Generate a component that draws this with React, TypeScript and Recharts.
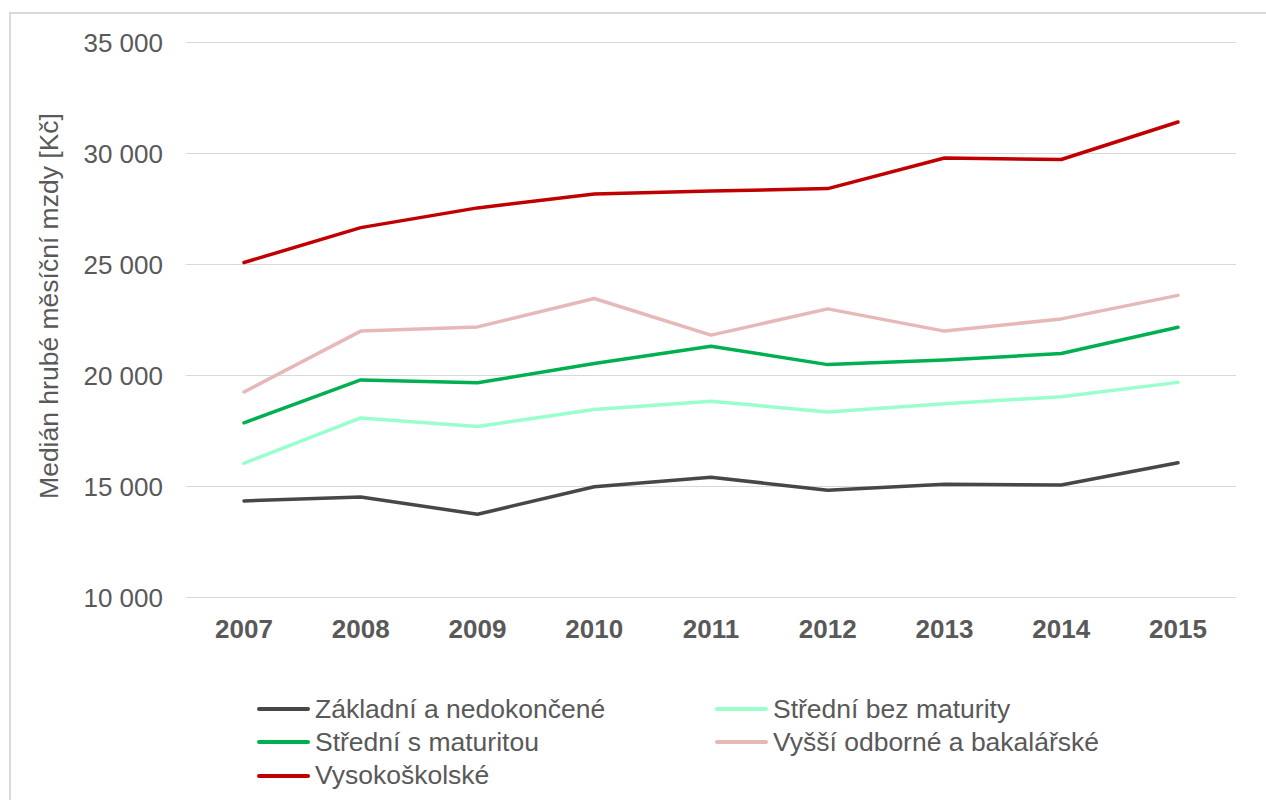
import { CartesianGrid, Legend, Line, LineChart, XAxis, YAxis } from 'recharts'

const years = ['2007', '2008', '2009', '2010', '2011', '2012', '2013', '2014', '2015']

const zakladni = [14350, 14530, 13750, 14990, 15420, 14830, 15100, 15070, 16070]
const stredniBez = [16050, 18090, 17700, 18470, 18840, 18360, 18730, 19040, 19690]
const stredniS = [17870, 19800, 19670, 20540, 21320, 20490, 20700, 20990, 22170]
const vyssi = [19260, 22000, 22190, 23470, 21820, 23000, 22000, 22550, 23610]
const vysoko = [25090, 26660, 27550, 28180, 28310, 28420, 29800, 29730, 31420]

const yTicks = [10000, 15000, 20000, 25000, 30000, 35000]

const series = [
  { key: 'zakladni', name: 'Základní a nedokončené', color: '#474747', values: zakladni },
  { key: 'stredniBez', name: 'Střední bez maturity', color: '#99ffcc', values: stredniBez },
  { key: 'stredniS', name: 'Střední s maturitou', color: '#00b050', values: stredniS },
  { key: 'vyssi', name: 'Vyšší odborné a bakalářské', color: '#e6b9b8', values: vyssi },
  { key: 'vysoko', name: 'Vysokoškolské', color: '#c00000', values: vysoko },
]

const data = years.map((year, i) => {
  const row: Record<string, string | number> = { year }
  series.forEach((s) => {
    row[s.key] = s.values[i]
  })
  return row
})

const FONT = '"Liberation Sans", Arial, sans-serif'
const TEXT = '#595959'

const formatThousands = (v: number) => `${Math.floor(v / 1000)} ${String(v % 1000).padStart(3, '0')}`

function AxisTitle() {
  return (
    <text
      x={57.5}
      y={306}
      transform="rotate(-90, 57.5, 306)"
      textAnchor="middle"
      fill={TEXT}
      fontSize={26.5}
      fontFamily={FONT}
    >
      Medián hrubé měsíční mzdy [Kč]
    </text>
  )
}

// legend keeps the series order (Recharts would sort it by name)
function LegendBox() {
  return (
    <div
      style={{
        position: 'absolute',
        left: 257,
        top: 35,
        display: 'grid',
        gridTemplateColumns: '458px auto',
        fontFamily: FONT,
        fontSize: 26.5,
        color: TEXT,
      }}
    >
      {series.map((s) => (
        <div key={s.key} style={{ display: 'flex', alignItems: 'center', height: 33.3, whiteSpace: 'nowrap' }}>
          <span style={{ width: 53, height: 4, background: s.color, borderRadius: 2, marginRight: 5 }} />
          <span>{s.name}</span>
        </div>
      ))}
    </div>
  )
}

export default function App() {
  return (
    <div style={{ position: 'relative', width: 1266, height: 800, overflow: 'hidden', background: '#fff' }}>
      <style>{'body{margin:0;overflow:hidden}'}</style>
      <div
        style={{
          position: 'absolute',
          left: 9,
          top: 12,
          width: 1300,
          height: 900,
          border: '2px solid #d9d9d9',
        }}
      />
      <div style={{ position: 'absolute', left: 0, top: 0 }}>
        <LineChart width={1266} height={800} data={data} margin={{ top: 42.5, right: 30, left: 0, bottom: 0 }}>
          <CartesianGrid vertical={false} stroke="#d9d9d9" strokeWidth={1} />
          <XAxis
            dataKey="year"
            axisLine={false}
            tickLine={false}
            tickSize={0}
            tickMargin={22}
            height={60}
            padding={{ left: 58, right: 58 }}
            tick={{ fill: TEXT, fontSize: 26, fontWeight: 700, fontFamily: FONT }}
          />
          <YAxis
            domain={[10000, 35000]}
            ticks={yTicks}
            width={186}
            axisLine={false}
            tickLine={false}
            tickSize={0}
            tickMargin={23}
            tickFormatter={formatThousands}
            tick={{ fill: TEXT, fontSize: 26, fontFamily: FONT }}
            label={<AxisTitle />}
          />
          <Legend verticalAlign="bottom" content={<LegendBox />} wrapperStyle={{ height: 142.5 }} />
          {series.map((s) => (
            <Line
              key={s.key}
              type="linear"
              dataKey={s.key}
              name={s.name}
              stroke={s.color}
              strokeWidth={3.5}
              strokeLinecap="round"
              strokeLinejoin="round"
              dot={false}
              activeDot={false}
              isAnimationActive={false}
            />
          ))}
        </LineChart>
      </div>
    </div>
  )
}
